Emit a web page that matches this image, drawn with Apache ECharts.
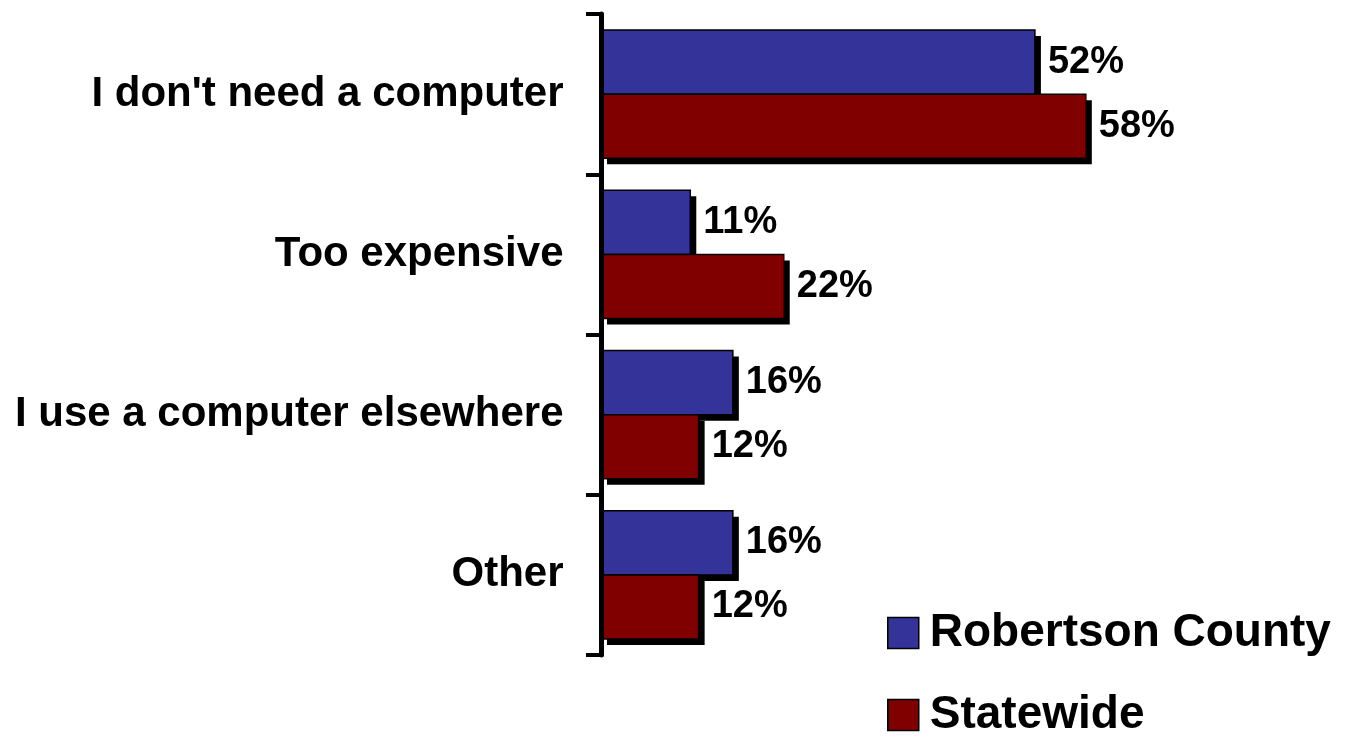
<!DOCTYPE html>
<html>
<head>
<meta charset="utf-8">
<script src="https://cdn.jsdelivr.net/npm/echarts@6/dist/echarts.min.js"></script>
<style>html,body{margin:0;padding:0;background:#fff;}#c{width:1354px;height:747px;}</style>
</head>
<body>
<div id="c"></div>
<script>
const categories = ["I don't need a computer", "Too expensive", "I use a computer elsewhere", "Other"];
const seriesNames = ["Robertson County", "Statewide"];
const robertson = [52.0, 10.7, 15.8, 15.8];
const statewide = [58.1, 21.9, 11.7, 11.7];

const FONT = "'Liberation Sans', Arial, Helvetica, sans-serif";
const chart = echarts.init(document.getElementById('c'), null, {renderer: 'canvas'});

function makeRender(side, color) {
  return function (params, api) {
    const v = api.value(0), c = api.value(1);
    const start = api.coord([0, c]);
    const end = api.coord([v, c]);
    const band = api.size([0, 1])[1];
    const h = band * 0.8 / 2;
    const y0 = side === 0 ? start[1] - h : start[1];
    const x0 = start[0];
    const w = end[0] - start[0];
    return {
      type: 'group',
      children: [
        {type: 'rect', shape: {x: x0 + 6, y: y0 + 6, width: w, height: h}, style: {fill: '#000'}},
        {type: 'rect', shape: {x: x0, y: y0, width: w, height: h}, style: {fill: color, stroke: '#000', lineWidth: 1.5}},
        {type: 'text', x: end[0] + 13, y: y0 + h / 2,
          style: {text: Math.round(v) + '%', fill: '#000', font: 'bold 38px ' + FONT, verticalAlign: 'middle', align: 'left'}}
      ]
    };
  };
}

function customSeries(name, data, color, side) {
  return {
    name: name,
    type: 'custom',
    data: data.map((v, i) => [v, i]),
    encode: {x: 0, y: 1},
    clip: false,
    z: 1,
    itemStyle: {color: color, borderColor: '#000', borderWidth: 1.5},
    renderItem: makeRender(side, color),
    emphasis: {disabled: true}
  };
}

chart.setOption({
  animation: false,
  backgroundColor: '#fff',
  grid: {left: 601, top: 14, width: 751, height: 641, containLabel: false},
  xAxis: {type: 'value', min: 0, max: 90, show: false, splitLine: {show: false}},
  yAxis: {
    type: 'category',
    data: categories,
    inverse: true,
    offset: 3.5,
    z: 5,
    axisLine: {show: true, lineStyle: {color: '#000', width: 5}},
    axisTick: {show: true, length: 15, lineStyle: {color: '#000', width: 4}},
    axisLabel: {
      margin: 34,
      color: '#000',
      fontFamily: FONT,
      fontWeight: 'bold',
      fontSize: 42
    },
    splitLine: {show: false}
  },
  legend: {
    data: seriesNames,
    orient: 'vertical',
    left: 887,
    top: 610,
    padding: 0,
    height: 135,
    width: 460,
    itemWidth: 31,
    itemHeight: 31,
    itemGap: 36,
    itemTextGap: 10,
    icon: 'rect',
    selectedMode: false,
    itemStyle: {
      borderColor: '#000',
      borderWidth: 1.5,
      shadowBlur: 0,
      shadowOffsetX: 0,
      shadowOffsetY: 0,
      shadowColor: 'rgba(0,0,0,0)'
    },
    textStyle: {
      color: '#000',
      fontFamily: FONT,
      fontWeight: 'bold',
      fontSize: 46,
      lineHeight: 46,
      padding: [0, 0, 0, 6]
    }
  },
  series: [
    customSeries(seriesNames[0], robertson, '#333399', 0),
    customSeries(seriesNames[1], statewide, '#800000', 1)
  ]
});
</script>
</body>
</html>
